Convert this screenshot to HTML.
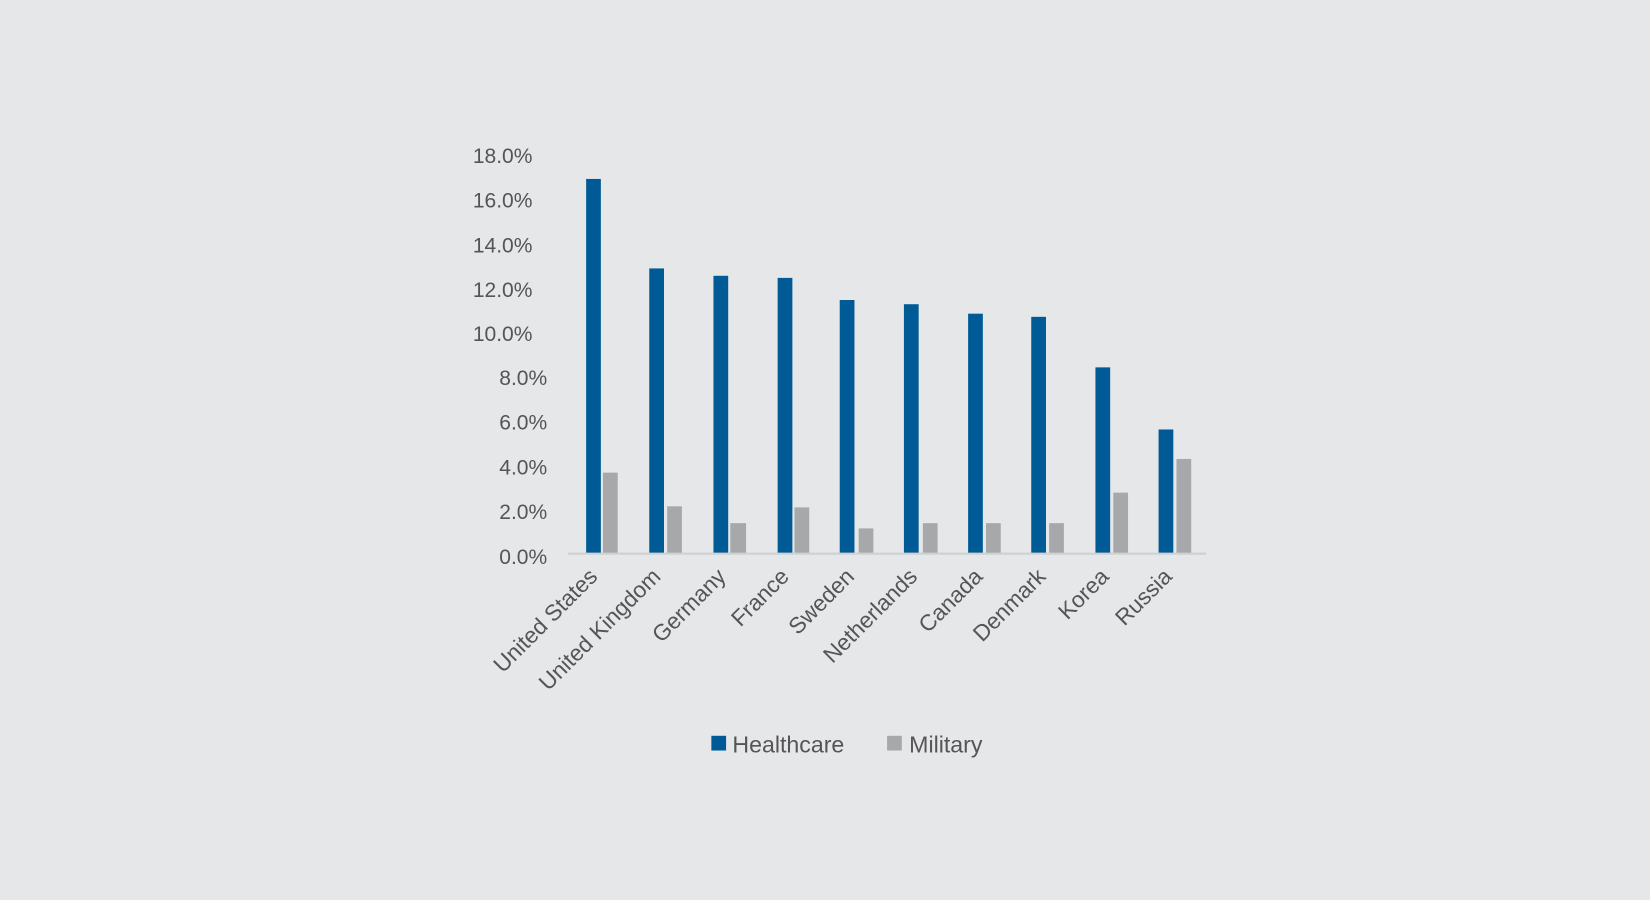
<!DOCTYPE html>
<html><head><meta charset="utf-8"><style>
html,body{margin:0;padding:0;background:#e6e7e9;}
svg{display:block;}
text{font-family:"Liberation Sans",sans-serif;fill:#555;}
</style></head><body>
<svg width="1650" height="900" viewBox="0 0 1568 855" preserveAspectRatio="none">
<rect width="1568" height="855" fill="#e6e7e9"/>
<g font-size="20" text-anchor="end">
<text x="506" y="155">18.0%</text>
<text x="506" y="197">16.0%</text>
<text x="506" y="240">14.0%</text>
<text x="506" y="282">12.0%</text>
<text x="506" y="324">10.0%</text>
<text x="520" y="366">8.0%</text>
<text x="520" y="408">6.0%</text>
<text x="520" y="451">4.0%</text>
<text x="520" y="493">2.0%</text>
<text x="520" y="536">0.0%</text>
</g>
<g fill="#005a96">
<rect x="557" y="170" width="14" height="356"/>
<rect x="617" y="255" width="14" height="271"/>
<rect x="678" y="262" width="14" height="264"/>
<rect x="739" y="264" width="14" height="262"/>
<rect x="798" y="285" width="14" height="241"/>
<rect x="859" y="289" width="14" height="237"/>
<rect x="920" y="298" width="14" height="228"/>
<rect x="980" y="301" width="14" height="225"/>
<rect x="1041" y="349" width="14" height="177"/>
<rect x="1101" y="408" width="14" height="118"/>
</g>
<g fill="#a7a8aa">
<rect x="573" y="449" width="14" height="77"/>
<rect x="634" y="481" width="14" height="45"/>
<rect x="694" y="497" width="15" height="29"/>
<rect x="755" y="482" width="14" height="44"/>
<rect x="816" y="502" width="14" height="24"/>
<rect x="877" y="497" width="14" height="29"/>
<rect x="937" y="497" width="14" height="29"/>
<rect x="997" y="497" width="14" height="29"/>
<rect x="1058" y="468" width="14" height="58"/>
<rect x="1118" y="436" width="14" height="90"/>
</g>
<line x1="540" y1="526" x2="1146" y2="526" stroke="#cfd0d2" stroke-width="2"/>
<g font-size="21.5" text-anchor="end">
<text transform="translate(569,549) rotate(-45)">United States</text>
<text transform="translate(629,549) rotate(-45)">United Kingdom</text>
<text transform="translate(691,549) rotate(-45)">Germany</text>
<text transform="translate(751,549) rotate(-45)">France</text>
<text transform="translate(813,549) rotate(-45)">Sweden</text>
<text transform="translate(873,549) rotate(-45)">Netherlands</text>
<text transform="translate(935,549) rotate(-45)">Canada</text>
<text transform="translate(995,549) rotate(-45)">Denmark</text>
<text transform="translate(1055,549) rotate(-45)">Korea</text>
<text transform="translate(1115,549) rotate(-45)">Russia</text>
</g>
<rect x="676" y="699" width="14" height="14" fill="#005a96"/>
<text x="696" y="715" font-size="22">Healthcare</text>
<rect x="843" y="699" width="14" height="14" fill="#a7a8aa"/>
<text x="864" y="715" font-size="22">Military</text>
</svg>
</body></html>
